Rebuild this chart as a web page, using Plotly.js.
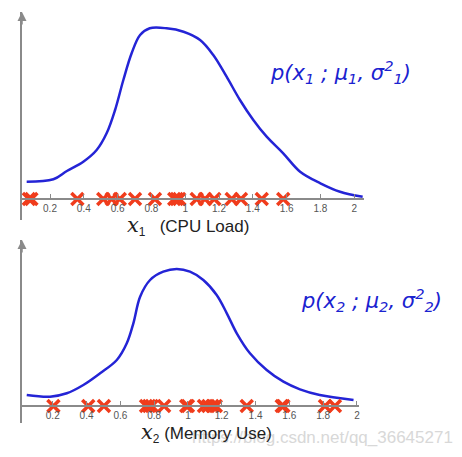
<!DOCTYPE html>
<html><head><meta charset="utf-8">
<script src="https://cdn.plot.ly/plotly-3.0.1.min.js"></script>
<style>html,body{margin:0;padding:0;background:#fff}#chart{width:462px;height:457px}</style>
</head><body><div id="chart"></div>
<script>
// Density curve p(x1; mu1, sigma1^2) - CPU load (arbitrary height units)
var cpuX = [0.062,0.22,0.30,0.397,0.476,0.535,0.585,0.634,0.683,0.733,0.79,0.89,0.99,1.088,1.166,1.245,1.324,1.403,1.482,1.58,1.68,1.80,1.916,2.05];
var cpuP = [17.3,19.7,28,37.3,49,65.7,89,119,145.7,164,170.7,170.7,167.3,159,144,122.3,99,79,62.3,45.7,27.3,15.7,7.3,2.3];
var cpuSamples = [0.075,0.09,0.362,0.515,0.565,0.613,0.703,0.821,0.935,0.95,0.965,1.068,1.117,1.172,1.275,1.33,1.453,1.58];
// Density curve p(x2; mu2, sigma2^2) - Memory use
var memX = [0.046,0.184,0.283,0.381,0.48,0.579,0.638,0.677,0.717,0.776,0.854,0.934,1.012,1.091,1.17,1.23,1.289,1.367,1.466,1.565,1.663,1.78,1.98];
var memP = [11,9.3,12.7,21,32.7,46,62.7,82.7,109.3,126,134.3,137,134.3,126,111,92.7,72.7,52.7,36,24.3,16.7,11,6];
var memSamples = [0.204,0.41,0.503,0.752,0.77,0.786,0.859,0.99,1.0,1.095,1.12,1.145,1.165,1.348,1.555,1.565,1.811,1.87];
var tickVals = [0.2,0.4,0.6,0.8,1,1.2,1.4,1.6,1.8,2];
var tickText = ["0.2","0.4","0.6","0.8","1","1.2","1.4","1.6","1.8","2"];

var blue = "#2424d6", red = "#f03c1c", grey = "#8a8a8a";
function zeros(a){ return a.map(function(){return 0;}); }

var traces = [
  {x: cpuX, y: cpuP, xaxis:"x", yaxis:"y", mode:"lines", line:{color:blue, width:2.5, shape:"spline", smoothing:1}, hoverinfo:"skip"},
  {x: cpuSamples, y: zeros(cpuSamples), xaxis:"x", yaxis:"y", mode:"markers", cliponaxis:false,
   marker:{symbol:"x-thin-open", size:12, color:red, line:{color:red, width:3.5}}, hoverinfo:"skip"},
  {x: memX, y: memP, xaxis:"x2", yaxis:"y2", mode:"lines", line:{color:blue, width:2.5, shape:"spline", smoothing:1}, hoverinfo:"skip"},
  {x: memSamples, y: zeros(memSamples), xaxis:"x2", yaxis:"y2", mode:"markers", cliponaxis:false,
   marker:{symbol:"x-thin-open", size:12, color:red, line:{color:red, width:3.5}}, hoverinfo:"skip"}
];

var W = 462, H = 457;
function fx(px){ return px / W; }
function fy(py){ return 1 - py / H; }

var xCommon = {showgrid:false, zeroline:false, showline:true, linecolor:grey, linewidth:2,
  ticks:"inside", ticklen:4, tickwidth:1, tickcolor:grey, tickmode:"array", tickvals:tickVals, ticktext:tickText,
  tickfont:{family:"Liberation Sans, Arial, sans-serif", size:10, color:"#555"}, fixedrange:true};
var yCommon = {showgrid:false, zeroline:false, showline:true, linecolor:grey, linewidth:2, ticks:"",
  showticklabels:false, fixedrange:true};

var layout = {
  width: W, height: H, margin:{l:0,r:0,t:0,b:0}, showlegend:false,
  paper_bgcolor:"#fff", plot_bgcolor:"rgba(0,0,0,0)",
  xaxis: Object.assign({}, xCommon, {domain:[fx(22), fx(363.5)], range:[0.0343, 2.055], anchor:"free", position:fy(199)}),
  yaxis: Object.assign({}, yCommon, {domain:[fy(220), fy(12)], range:[-21, 187], anchor:"x"}),
  xaxis2: Object.assign({}, xCommon, {domain:[fx(22), fx(358.6)], range:[0.018, 2.01], anchor:"free", position:fy(406)}),
  yaxis2: Object.assign({}, yCommon, {domain:[fy(423), fy(240)], range:[-17, 166], anchor:"x2"}),
  annotations: [
    {xref:"paper", yref:"paper", x:fx(455), y:fy(437), xanchor:"right", yanchor:"middle", showarrow:false,
     text:"https://blog.csdn.net/qq_36645271", font:{family:"Liberation Sans, Arial, sans-serif", size:17, color:"#d8d8d8"}},
    {xref:"x", yref:"y", x:0.0343, y:187, ax:0, ay:14, showarrow:true, arrowhead:2, arrowsize:1.2, arrowwidth:1.5, arrowcolor:grey, text:""},
    {xref:"x2", yref:"y2", x:0.018, y:166, ax:0, ay:14, showarrow:true, arrowhead:2, arrowsize:1.2, arrowwidth:1.5, arrowcolor:grey, text:""},
    {xref:"paper", yref:"paper", x:fx(188), y:fy(226), xanchor:"center", yanchor:"middle", showarrow:false,
     text:"<span style='font-family:DejaVu Serif, serif;font-style:italic;font-size:21px'>x</span><sub>1</sub>   (CPU Load)",
     font:{family:"Liberation Sans, Arial, sans-serif", size:17, color:"#222"}},
    {xref:"paper", yref:"paper", x:fx(206), y:fy(433), xanchor:"center", yanchor:"middle", showarrow:false,
     text:"<span style='font-family:DejaVu Serif, serif;font-style:italic;font-size:21px'>x</span><sub>2</sub> (Memory Use)",
     font:{family:"Liberation Sans, Arial, sans-serif", size:17, color:"#222"}},
    {xref:"paper", yref:"paper", x:fx(340), y:fy(72), xanchor:"center", yanchor:"middle", showarrow:false,
     text:"<i>p(x<sub>1</sub> ; μ<sub>1</sub>, σ<sup>2</sup><sub>1</sub>)</i>",
     font:{family:"DejaVu Sans, sans-serif", size:21, color:"#1a22d0"}},
    {xref:"paper", yref:"paper", x:fx(371), y:fy(300), xanchor:"center", yanchor:"middle", showarrow:false,
     text:"<i>p(x<sub>2</sub> ; μ<sub>2</sub>, σ<sup>2</sup><sub>2</sub>)</i>",
     font:{family:"DejaVu Sans, sans-serif", size:21, color:"#1a22d0"}}
  ]
};
Plotly.newPlot("chart", traces, layout, {staticPlot:true, displayModeBar:false});
</script></body></html>
